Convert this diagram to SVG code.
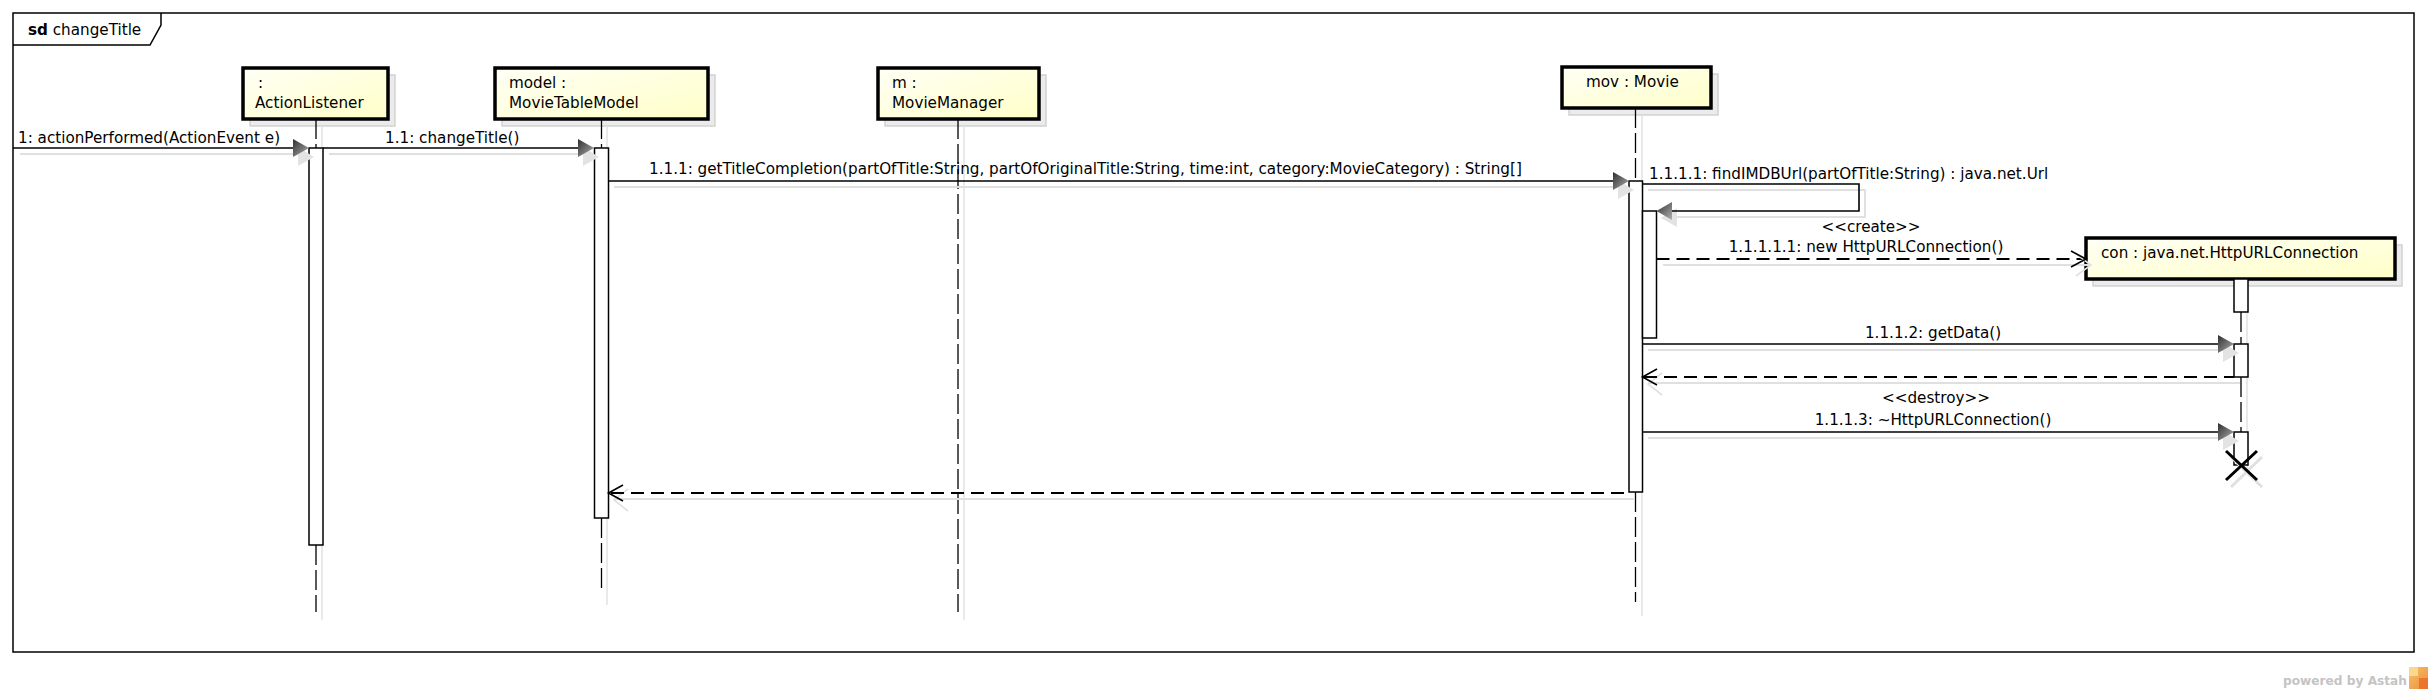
<svg xmlns="http://www.w3.org/2000/svg" width="2428" height="692" viewBox="0 0 2428 692">
<defs>
<linearGradient id="yel" x1="0" y1="0" x2="1" y2="1">
<stop offset="0" stop-color="#fffff6"/>
<stop offset="1" stop-color="#ffffc8"/>
</linearGradient>
<linearGradient id="ah" x1="0" y1="0" x2="1" y2="1">
<stop offset="0" stop-color="#2e2e2e"/>
<stop offset="1" stop-color="#b0b0b0"/>
</linearGradient>
<linearGradient id="logo" x1="0" y1="0" x2="1" y2="1">
<stop offset="0" stop-color="#f7c46a"/>
<stop offset="1" stop-color="#ef8a3a"/>
</linearGradient>
</defs>
<style>
.frame{fill:#fff;stroke:#000;stroke-width:1.5}
.box{fill:url(#yel);stroke:#000;stroke-width:3.5}
.bs{fill:#ebebeb;stroke:#d2d2d2;stroke-width:1.5}
.life{stroke:#000;stroke-width:1.3;stroke-dasharray:20 5;fill:none}
.ls{stroke:#e2e2e2;stroke-width:1.5;fill:none}
.act{fill:#fff;stroke:#000;stroke-width:1.5}
.msg{stroke:#000;stroke-width:1.6;fill:none}
.dash{stroke:#000;stroke-width:1.8;fill:none;stroke-dasharray:13 7}
.ms{stroke:#e0e0e0;stroke-width:2;fill:none}
.head{fill:url(#ah)}
.hs{fill:#e3e3e3}
.open{fill:none;stroke:#000;stroke-width:1.6}
.os{fill:none;stroke:#e0e0e0;stroke-width:1.6}
.t{font-family:"DejaVu Sans",sans-serif;font-size:15.2px;fill:#000}
.mid{text-anchor:middle}
.x{stroke:#000;stroke-width:3;fill:none}
.xs{stroke:#e0e0e0;stroke-width:3;fill:none}
</style>
<rect width="2428" height="692" fill="#fff"/>
<g id="frame">
<rect class="frame" x="13" y="13" width="2401" height="639"/>
<path d="M13,45 H150 L161,25 V13" fill="none" stroke="#000" stroke-width="1.5"/>
<text class="t" x="28" y="35"><tspan font-weight="bold">sd</tspan> changeTitle</text>
</g>

<g id="actionListener">
<rect class="bs" x="250" y="75" width="145" height="51"/>
<line class="ls" x1="322" y1="126" x2="322" y2="620"/>
<rect class="box" x="243" y="68" width="145" height="51"/>
<text class="t" x="258" y="88">:</text>
<text class="t" x="255" y="108">ActionListener</text>
<line class="life" x1="316" y1="119" x2="316" y2="148"/>
<line class="life" x1="316" y1="545" x2="316" y2="612"/>
<rect class="act" x="309" y="148" width="14" height="397"/>
</g>

<g id="model">
<rect class="bs" x="502" y="75" width="213" height="51"/>
<line class="ls" x1="607" y1="126" x2="607" y2="605"/>
<rect class="box" x="495" y="68" width="213" height="51"/>
<text class="t" x="509" y="88">model :</text>
<text class="t" x="509" y="108">MovieTableModel</text>
<line class="life" x1="601.5" y1="119" x2="601.5" y2="148"/>
<line class="life" x1="601.5" y1="518" x2="601.5" y2="590"/>
<rect class="act" x="594.5" y="148" width="14" height="370"/>
</g>

<g id="movieManager">
<rect class="bs" x="885" y="75" width="161" height="51"/>
<line class="ls" x1="964" y1="126" x2="964" y2="620"/>
<rect class="box" x="878" y="68" width="161" height="51"/>
<text class="t" x="892" y="88">m :</text>
<text class="t" x="892" y="108">MovieManager</text>
<line class="life" x1="958" y1="119" x2="958" y2="612"/>
</g>

<g id="movie">
<rect class="bs" x="1569" y="74" width="149" height="41"/>
<line class="ls" x1="1642" y1="115" x2="1642" y2="616"/>
<rect class="box" x="1562" y="67" width="149" height="41"/>
<text class="t" x="1586" y="87">mov : Movie</text>
<line class="life" x1="1635.5" y1="108" x2="1635.5" y2="181"/>
<line class="life" x1="1635.5" y1="492" x2="1635.5" y2="602"/>
<rect class="act" x="1629" y="181" width="13.5" height="311"/>
<rect class="act" x="1642.5" y="211" width="14" height="127"/>
</g>

<g id="con">
<rect class="bs" x="2093" y="245" width="309" height="41"/>
<line class="ls" x1="2247" y1="286" x2="2247" y2="470"/>
<rect class="box" x="2086" y="238" width="309" height="41"/>
<text class="t" x="2101" y="258">con : java.net.HttpURLConnection</text>
<line class="life" x1="2241" y1="312" x2="2241" y2="344"/>
<line class="life" x1="2241" y1="377" x2="2241" y2="432"/>
<rect class="act" x="2234" y="279" width="14" height="33"/>
<rect class="act" x="2234" y="344" width="14" height="33"/>
<rect class="act" x="2234" y="432" width="14" height="33"/>
<path class="xs" d="M2231,457 L2262,487 M2262,457 L2231,487"/>
<path class="x" d="M2226,451 L2257,480 M2257,451 L2226,480"/>
</g>

<g id="connectors">
<!-- 1 -->
<line class="ms" x1="20" y1="154" x2="305" y2="154"/>
<polygon class="hs" points="298,147 314,157 298,166"/>
<line class="msg" x1="13" y1="148" x2="295" y2="148"/>
<polygon class="head" points="293,139 309,148 293,157"/>
<text class="t" x="18" y="143">1: actionPerformed(ActionEvent e)</text>
<!-- 1.1 -->
<line class="ms" x1="329" y1="154" x2="590" y2="154"/>
<polygon class="hs" points="583,147 599,157 583,166"/>
<line class="msg" x1="323" y1="148" x2="580" y2="148"/>
<polygon class="head" points="578,139 594,148 578,157"/>
<text class="t" x="385" y="143">1.1: changeTitle()</text>
<!-- 1.1.1 -->
<line class="ms" x1="614" y1="187" x2="1625" y2="187"/>
<polygon class="hs" points="1618,180 1634,190 1618,199"/>
<line class="msg" x1="608.5" y1="181" x2="1615" y2="181"/>
<polygon class="head" points="1613,172 1629,181 1613,190"/>
<text class="t" x="649" y="174">1.1.1: getTitleCompletion(partOfTitle:String, partOfOriginalTitle:String, time:int, category:MovieCategory) : String[]</text>
<!-- 1.1.1.1 self -->
<polyline class="ms" points="1648,190 1865,190 1865,217 1670,217"/>
<polygon class="hs" points="1677,208 1661,218 1677,227"/>
<polyline class="msg" points="1642.5,184 1859,184 1859,211 1670,211"/>
<polygon class="head" points="1672,202 1656.5,211 1672,220"/>
<text class="t" x="1649" y="179">1.1.1.1: findIMDBUrl(partOfTitle:String) : java.net.Url</text>
<!-- create -->
<line class="ms" x1="1663" y1="265" x2="2090" y2="265"/>
<line class="dash" x1="1656.5" y1="259" x2="2084" y2="259"/>
<polyline class="os" points="2076,254 2091,265 2076,276"/>
<polyline class="open" points="2071,251 2086,259 2071,267"/>
<text class="t mid" x="1871" y="232">&lt;&lt;create&gt;&gt;</text>
<text class="t mid" x="1866" y="252">1.1.1.1.1: new HttpURLConnection()</text>
<!-- getData -->
<line class="ms" x1="1648" y1="350" x2="2230" y2="350"/>
<polygon class="hs" points="2223,343 2239,353 2223,362"/>
<line class="msg" x1="1642.5" y1="344" x2="2220" y2="344"/>
<polygon class="head" points="2218,335 2234,344 2218,353"/>
<text class="t mid" x="1933" y="338">1.1.1.2: getData()</text>
<!-- return getData -->
<line class="ms" x1="1648" y1="383" x2="2240" y2="383"/>
<polyline class="os" points="1662,373 1648,384 1662,395"/>
<line class="dash" x1="1644" y1="377" x2="2234" y2="377"/>
<polyline class="open" points="1657,369 1642.5,377 1657,385"/>
<!-- destroy -->
<line class="ms" x1="1648" y1="438" x2="2230" y2="438"/>
<polygon class="hs" points="2223,431 2239,441 2223,450"/>
<line class="msg" x1="1642.5" y1="432" x2="2220" y2="432"/>
<polygon class="head" points="2218,423 2234,432 2218,441"/>
<text class="t mid" x="1936" y="403">&lt;&lt;destroy&gt;&gt;</text>
<text class="t mid" x="1933" y="425">1.1.1.3: ~HttpURLConnection()</text>
<!-- return to model -->
<line class="ms" x1="614" y1="499" x2="1635" y2="499"/>
<polyline class="os" points="628,489 614,500 628,511"/>
<line class="dash" x1="611" y1="493" x2="1629" y2="493"/>
<polyline class="open" points="623,485 608.5,493 623,501"/>
</g>

<g id="branding">
<text x="2283" y="685" font-family="DejaVu Sans,sans-serif" font-weight="bold" font-size="13" fill="#c4c4c4" textLength="124" lengthAdjust="spacingAndGlyphs">powered by Astah</text>
<rect x="2409" y="667" width="19" height="22" fill="url(#logo)"/>
<rect x="2409" y="667" width="9" height="9" fill="#fbd98c"/>
<rect x="2419" y="678" width="9" height="11" fill="#e9762c"/>
</g>
</svg>
